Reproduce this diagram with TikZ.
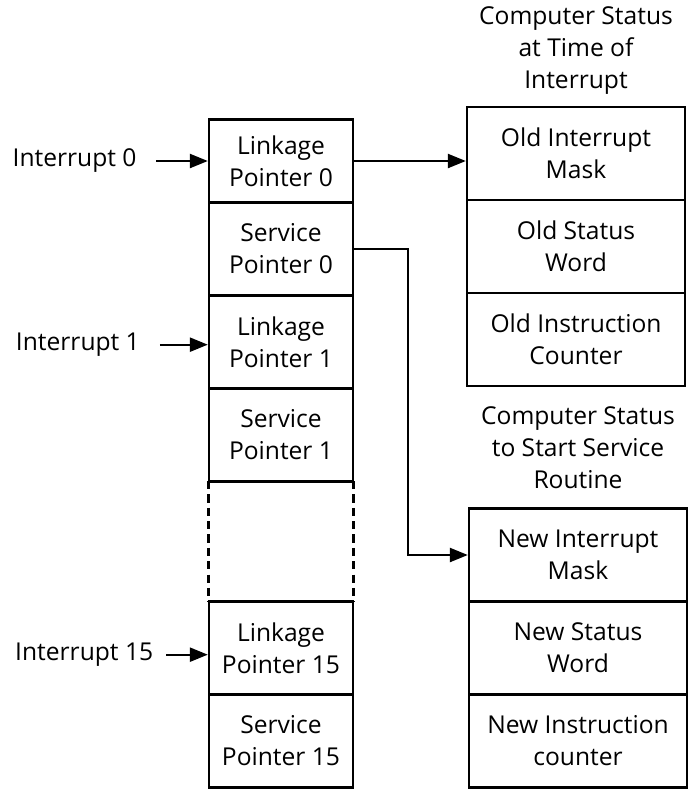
\documentclass[tikz,border=0pt]{standalone}
\usepackage{fontspec}
\setmainfont{Open Sans}
\usetikzlibrary{arrows.meta, positioning}
\tikzstyle{cell} = [rectangle, minimum width=2.16cm, minimum height=1.395cm, align=center, draw=black, line width=1pt, inner sep=0pt]
\tikzstyle{status} = [rectangle, minimum width=3.27cm, minimum height=1.395cm, align=center, draw=black, line width=1pt, inner sep=0pt]
\tikzstyle{cellgap} = [rectangle, minimum width=2.16cm, minimum height=1.8cm, inner sep=0pt]
\tikzstyle{lbl} = [inner sep=0pt, outer sep=0.3cm]
\tikzstyle{title} = [align=center, inner sep=0pt]
\tikzstyle{arrow} = [line width=1pt, -{Triangle[length=0.27cm, width=0.21cm]}]
\tikzstyle{gapline} = [line width=1pt, dash pattern=on 3.5pt off 2.2pt]

\begin{document}
\begin{tikzpicture}[font=\fontsize{10.5}{13.66}\selectfont]
            \useasboundingbox (0,0) rectangle (10.47,-11.85);

            % Pointer table
            \node (link0) [cell, minimum height=1.245cm] at (4.215,-2.415) {Linkage\\Pointer 0};
            \node (serv0) [cell, below of=link0, node distance=1.32cm] {Service\\Pointer 0};
            \node (link1) [cell, below of=serv0, node distance=1.395cm] {Linkage\\Pointer 1};
            \node (serv1) [cell, below of=link1, node distance=1.395cm] {Service\\Pointer 1};
            \node (gap) [cellgap, below of=serv1, node distance=1.5975cm] {};
            \node (link15) [cell, below of=gap, node distance=1.5975cm] {Linkage\\Pointer 15};
            \node (serv15) [cell, below of=link15, node distance=1.395cm] {Service\\Pointer 15};

            % Interrupt labels
            \node (int0) [lbl, left=0.77cm of link0] {Interrupt 0};
            \node (int1) [lbl, left=0.72cm of link1, yshift=-0.04cm] {Interrupt 1};
            \node (int15) [lbl, outer sep=0.2cm, left=0.62cm of link15, yshift=-0.1cm] {Interrupt 15};

            % Status blocks
            \node (oldmask) [status] at (8.64,-2.3025) {Old Interrupt\\Mask};
            \node (oldword) [status, below of=oldmask, node distance=1.395cm] {Old Status\\Word};
            \node (oldcount) [status, below of=oldword, node distance=1.395cm] {Old Instruction\\Counter};
            \node (oldtitle) [title, above=0.165cm of oldmask] {Computer Status\\at Time of\\Interrupt};

            \node (newmask) [status] at (8.67,-8.325) {New Interrupt\\Mask};
            \node (newword) [status, below of=newmask, node distance=1.395cm] {New Status\\Word};
            \node (newcount) [status, below of=newword, node distance=1.395cm] {New Instruction\\counter};
            \node (newtitle) [title, above=0.27cm of newmask] {Computer Status\\to Start Service\\Routine};

            % Draw edges
            \draw [gapline] (gap.north west) -- (gap.south west);
            \draw [gapline] (gap.north east) -- (gap.south east);
            \draw [arrow] (int0) -- (int0 -| link0.west);
            \draw [arrow] (int1) -- (int1 -| link1.west);
            \draw [arrow] (int15) -- (int15 -| link15.west);
            \draw [arrow] (link0) -- (link0 -| oldmask.west);
            \draw [arrow] (serv0.east) -| ([xshift=-0.9cm]newmask.west) -- (newmask.west);
\end{tikzpicture}
\end{document}
